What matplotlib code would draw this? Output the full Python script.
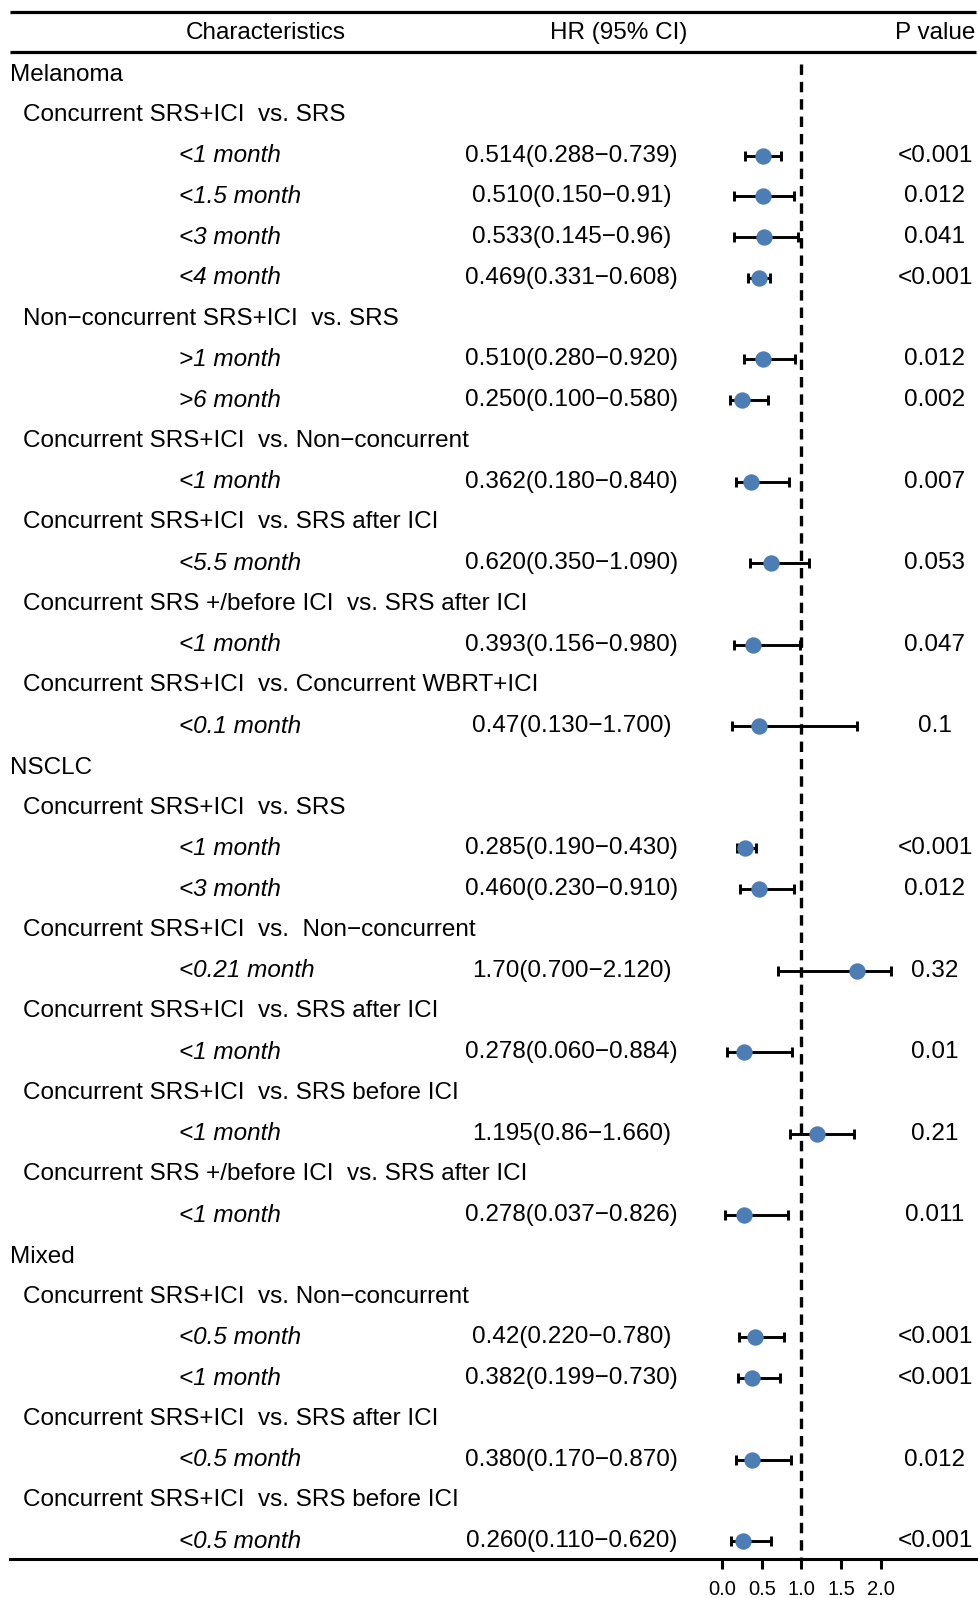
import matplotlib
matplotlib.use("Agg")
import matplotlib.pyplot as plt
import matplotlib.transforms as mtransforms
import numpy as np

plt.rcParams['font.family'] = ['Liberation Sans', 'DejaVu Sans']
plt.rcParams['lines.scale_dashes'] = False

# ---------------- data ----------------
MINUS = "\u2212"
labels = [
    "Melanoma",
    "Concurrent SRS+ICI  vs. SRS",
    "<1 month", "<1.5 month", "<3 month", "<4 month",
    f"Non{MINUS}concurrent SRS+ICI  vs. SRS",
    ">1 month", ">6 month",
    f"Concurrent SRS+ICI  vs. Non{MINUS}concurrent",
    "<1 month",
    "Concurrent SRS+ICI  vs. SRS after ICI",
    "<5.5 month",
    "Concurrent SRS +/before ICI  vs. SRS after ICI",
    "<1 month",
    "Concurrent SRS+ICI  vs. Concurrent WBRT+ICI",
    "<0.1 month",
    "NSCLC",
    "Concurrent SRS+ICI  vs. SRS",
    "<1 month", "<3 month",
    f"Concurrent SRS+ICI  vs.  Non{MINUS}concurrent",
    "<0.21 month",
    "Concurrent SRS+ICI  vs. SRS after ICI",
    "<1 month",
    "Concurrent SRS+ICI  vs. SRS before ICI",
    "<1 month",
    "Concurrent SRS +/before ICI  vs. SRS after ICI",
    "<1 month",
    "Mixed",
    f"Concurrent SRS+ICI  vs. Non{MINUS}concurrent",
    "<0.5 month", "<1 month",
    "Concurrent SRS+ICI  vs. SRS after ICI",
    "<0.5 month",
    "Concurrent SRS+ICI  vs. SRS before ICI",
    "<0.5 month",
]
# 0 = cancer group, 1 = comparison, 2 = cut-off (estimate row)
levels = [0, 1, 2, 2, 2, 2, 1, 2, 2, 1, 2, 1, 2, 1, 2, 1, 2,
          0, 1, 2, 2, 1, 2, 1, 2, 1, 2, 1, 2,
          0, 1, 2, 2, 1, 2, 1, 2]

# estimates for the level-2 rows, in order
hr    = [0.514, 0.510, 0.533, 0.469, 0.510, 0.250, 0.362, 0.620, 0.393, 0.47,
         0.285, 0.460, 1.70, 0.278, 1.195, 0.278,
         0.42, 0.382, 0.380, 0.260]
ci_lo = [0.288, 0.150, 0.145, 0.331, 0.280, 0.100, 0.180, 0.350, 0.156, 0.130,
         0.190, 0.230, 0.700, 0.060, 0.86, 0.037,
         0.220, 0.199, 0.170, 0.110]
ci_hi = [0.739, 0.91, 0.96, 0.608, 0.920, 0.580, 0.840, 1.090, 0.980, 1.700,
         0.430, 0.910, 2.120, 0.884, 1.660, 0.826,
         0.780, 0.730, 0.870, 0.620]
hr_text = ["0.514(0.288-0.739)", "0.510(0.150-0.91)", "0.533(0.145-0.96)",
           "0.469(0.331-0.608)", "0.510(0.280-0.920)", "0.250(0.100-0.580)",
           "0.362(0.180-0.840)", "0.620(0.350-1.090)", "0.393(0.156-0.980)",
           "0.47(0.130-1.700)",
           "0.285(0.190-0.430)", "0.460(0.230-0.910)", "1.70(0.700-2.120)",
           "0.278(0.060-0.884)", "1.195(0.86-1.660)", "0.278(0.037-0.826)",
           "0.42(0.220-0.780)", "0.382(0.199-0.730)", "0.380(0.170-0.870)",
           "0.260(0.110-0.620)"]
p_text = ["<0.001", "0.012", "0.041", "<0.001", "0.012", "0.002", "0.007",
          "0.053", "0.047", "0.1",
          "<0.001", "0.012", "0.32", "0.01", "0.21", "0.011",
          "<0.001", "<0.001", "0.012", "<0.001"]
headers = ["Characteristics", "HR (95% CI)", "P value"]
xticks = [0.0, 0.5, 1.0, 1.5, 2.0]
ref_value = 1.0

# ---------------- layout (pixels of the 979x1598 output) ----------------
W, H = 979, 1598
DPI = 100
X0_PX, UNIT_PX = 722.0, 79.5       # HR=0 position and px per HR unit
ROW0_PX, ROW_PX = 74.0, 40.75      # centre of first row, row pitch

fig = plt.figure(figsize=(W / DPI, H / DPI), dpi=DPI)
ax = fig.add_axes([0, 0, 1, 1])
ax.set_xlim((0 - X0_PX) / UNIT_PX, (W - X0_PX) / UNIT_PX)
ax.set_ylim((H - ROW0_PX) / ROW_PX, (0 - ROW0_PX) / ROW_PX)
ax.patch.set_visible(False)

def px(x):
    return x / W

trans = mtransforms.blended_transform_factory(ax.transAxes, ax.transData)
FS = 17.5
blue = "#4C7EB5"

# header rules
for yr in (-1.53, -0.55):
    ax.plot([px(10), px(976)], [yr, yr], color="black", lw=2.3,
            transform=trans, solid_capstyle="butt", clip_on=False)

# headers
hdr_x = [266, 619, 935]
for hx, h in zip(hdr_x, headers):
    ax.text(px(hx), -1.0, h, transform=trans, ha="center", va="center",
            fontsize=FS)

rows = np.arange(len(labels))
est_rows = [r for r, lv in zip(rows, levels) if lv == 2]

# labels
for r, lab, lv in zip(rows, labels, levels):
    if lv == 0:
        ax.text(px(10), r + 0.03, lab, transform=trans, ha="left",
                va="center", fontsize=FS)
    elif lv == 1:
        ax.text(px(23.5), r, lab, transform=trans, ha="left", va="center",
                fontsize=FS)
    else:
        ax.text(px(179), r, lab, transform=trans, ha="left", va="center",
                fontsize=FS, style="italic")

for r, t, p in zip(est_rows, hr_text, p_text):
    ax.text(px(571.5), r, t.replace("-", MINUS), transform=trans,
            ha="center", va="center", fontsize=FS)
    ax.text(px(935), r, p, transform=trans, ha="center", va="center",
            fontsize=FS)

# reference line
axis_row = 36.45
ax.plot([ref_value, ref_value], [-0.25, axis_row], color="black", lw=2.4,
        dashes=(7.5, 5.0), zorder=1)

# estimates with CI
hr_a = np.array(hr)
err = np.vstack([hr_a - np.array(ci_lo), np.array(ci_hi) - hr_a])
ax.errorbar(hr_a, est_rows, xerr=err, fmt="none", ecolor="black",
            elinewidth=2.1, capsize=3.7, capthick=2.1, zorder=3)
ax.plot(hr_a, est_rows, "o", color=blue, markersize=11.8, markeredgewidth=0,
        zorder=4, linestyle="none")

# x axis
for s in ("top", "right", "left"):
    ax.spines[s].set_visible(False)
ax.spines["bottom"].set_position(("data", axis_row))
ax.spines["bottom"].set_linewidth(2.2)
ax.spines["bottom"].set_bounds((10 - X0_PX) / UNIT_PX, (976 - X0_PX) / UNIT_PX)
ax.set_yticks([])
ax.set_xticks(xticks)
ax.set_xticklabels([f"{v:.1f}" for v in xticks])
ax.tick_params(axis="x", direction="out", length=7.5, width=2.2,
               labelsize=14.5, pad=7.5)

fig.savefig("out.png", dpi=DPI)
